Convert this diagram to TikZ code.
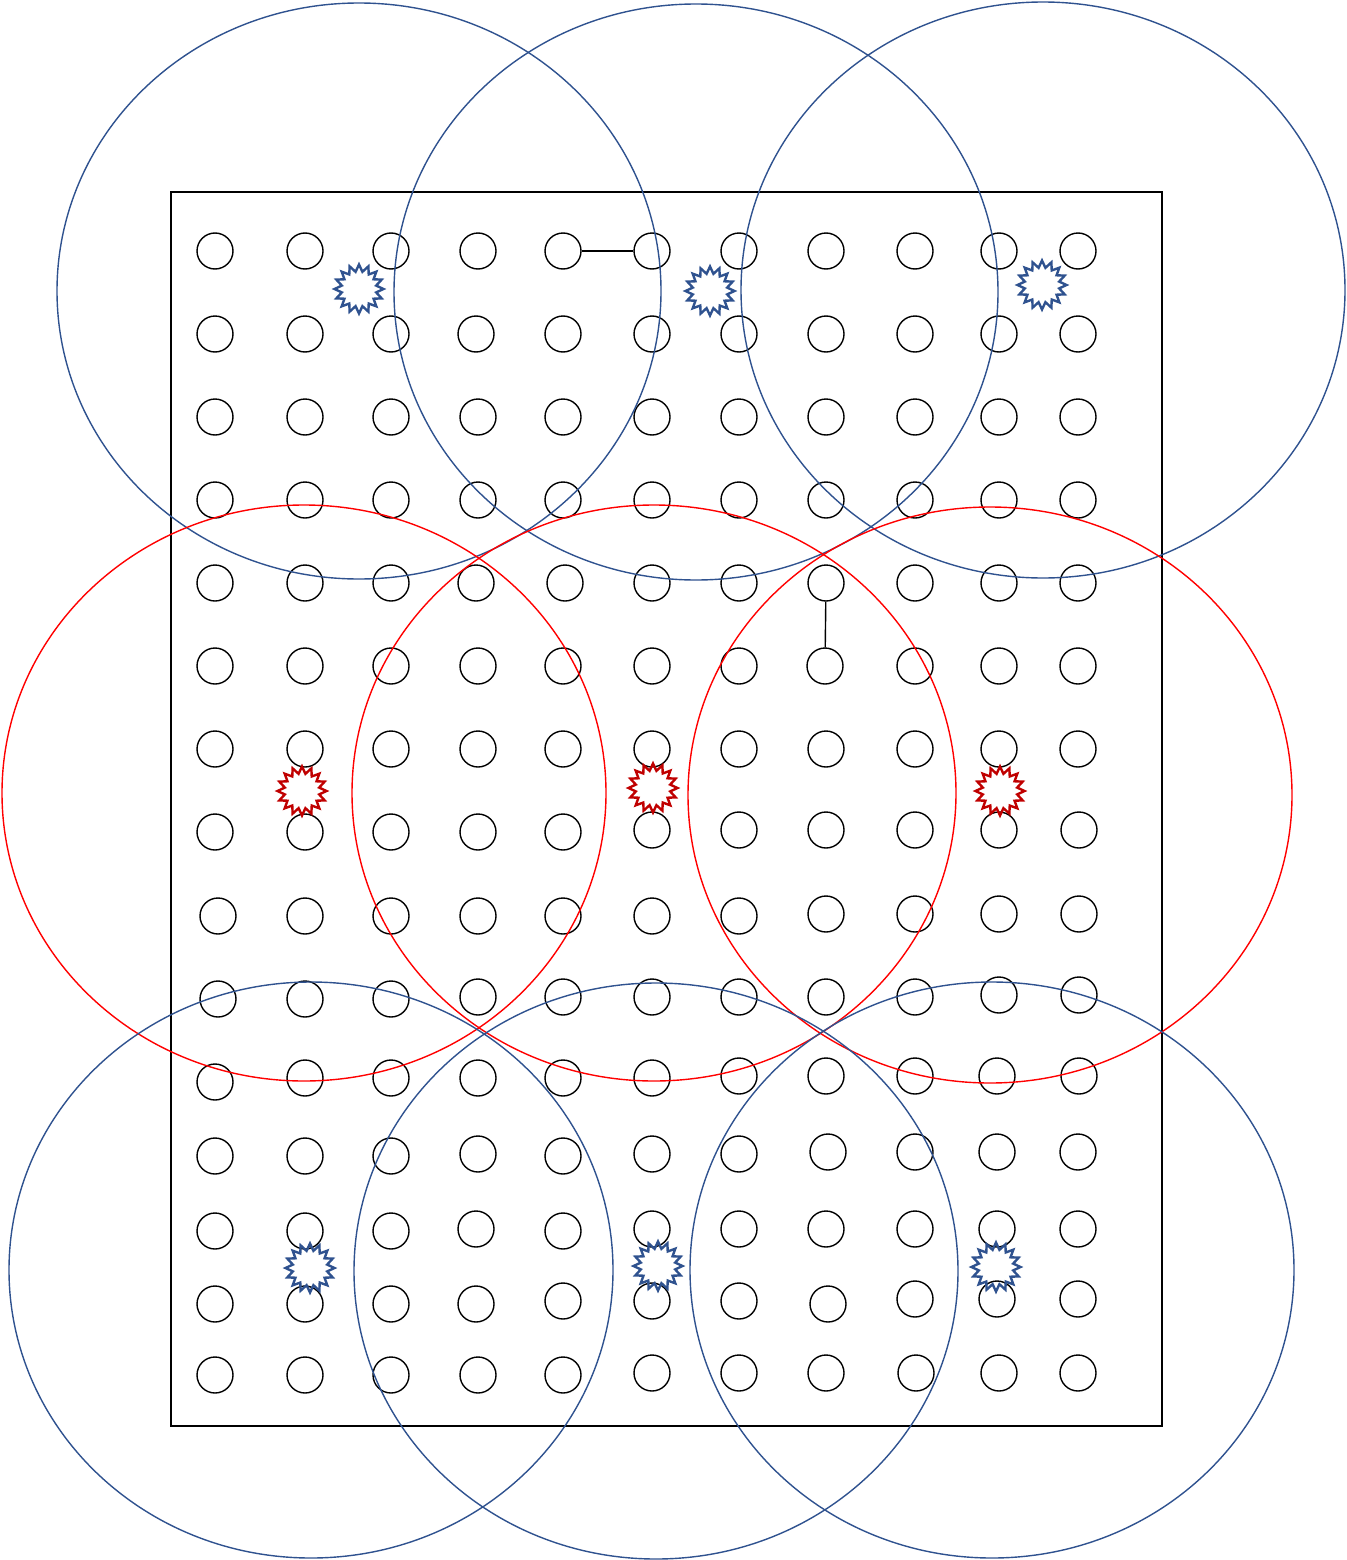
\documentclass[tikz,border=0pt]{standalone}
\definecolor{zoneblue}{HTML}{2F528F}
\definecolor{zonered}{HTML}{FF0000}
\definecolor{stardred}{HTML}{C00000}
\tikzset{
  dot/.style={draw=black, circle, line width=1.4pt, minimum size=36pt, inner sep=0pt},
  link/.style={draw=black, line width=1.4pt},
  frame/.style={draw=black, line width=1.4pt},
  bluezone/.style={draw=zoneblue, line width=1.4pt},
  redzone/.style={draw=zonered, line width=1.4pt},
  bluestar/.style={draw=zoneblue, line width=2.4pt, line join=miter},
  redstar/.style={draw=stardred, line width=2.4pt, line join=miter}
}
\newcommand\burst[4]{%
  \coordinate (#1) at (#2,#3);
  \draw[#4, shift={(#1)}] plot[samples at={0,...,31}] ({(21+3.5*cos(\x*180))*cos(\x*11.25)},{(21+3.5*cos(\x*180))*sin(\x*11.25)}) -- cycle;}
\begin{document}
\begin{tikzpicture}[x=1pt,y=-1pt]
\useasboundingbox (0,0) rectangle (1346,1560);
% frame
\draw[frame] (171,192) rectangle (1162,1426);
% grid of small circles
\foreach \r/\row in {
 1/{215/251,305/251,391/251,478/251,563/251,652/251,739/251,826/251,915/251,999/251,1078/251},
 2/{215/334,305/334,391/334,476/334,563/334,652/334,739/334,826/334,915/334,999/334,1078/334},
 3/{215/417,305/417,391/417,478/417,563/417,652/417,739/417,826/417,915/417,999/417,1078/417},
 4/{215/500,305/500,391/500,478/500,563/500,652/500,739/500,826/500,915/500,999/500,1078/500},
 5/{215/583,305/583,391/583,476/583,565/583,652/583,739/583,826/583,915/583,999/583,1078/583},
 6/{215/666,305/666,391/666,478/666,563/666,652/666,739/666,825/666,915/666,999/666,1078/666},
 7/{215/749,305/749,391/749,478/749,563/749,652/749,739/749,826/749,915/749,999/749,1078/749},
 8/{215/832,305/832,391/832,478/832,563/832,652/830,739/830,826/830,915/830,999/830,1079/830},
 9/{218/916,305/916,391/916,478/916,563/916,652/916,739/916,826/914,915/914,999/914,1079/914},
 10/{218/999,305/999,391/999,478/997,563/997,652/997,739/997,826/997,915/997,999/995,1079/995},
 11/{215/1082,305/1078,391/1078,478/1078,563/1078,652/1078,739/1076,826/1076,915/1076,997/1076,1079/1076},
 12/{215/1156,305/1156,391/1156,478/1154,563/1156,652/1154,739/1154,828/1152,915/1152,997/1152,1078/1152},
 13/{215/1231,305/1231,391/1231,476/1229,563/1231,652/1229,739/1229,826/1229,915/1229,997/1229,1078/1229},
 14/{215/1304,305/1304,391/1304,476/1304,563/1301,652/1301,739/1301,828/1304,915/1299,997/1299,1078/1299},
 15/{215/1375,305/1375,391/1375,478/1375,563/1375,652/1373,739/1373,826/1373,916/1373,999/1373,1078/1373}}
{
  \foreach \px/\py [count=\c] in \row {
    \node[dot] (c-\r-\c) at (\px,\py) {};
  }
}
% connectors
\draw[link] (c-1-5) -- (c-1-6);
\draw[link] (c-5-8) -- (c-6-8);
% blue zones top
\draw[bluezone] (359,291) ellipse [x radius=302pt, y radius=288pt];
\draw[bluezone] (696,292) ellipse [x radius=302pt, y radius=288pt];
\draw[bluezone] (1043,290) ellipse [x radius=302pt, y radius=288pt];
% red zones
\draw[redzone] (304,793) ellipse [x radius=302pt, y radius=288pt];
\draw[redzone] (654,793) ellipse [x radius=302pt, y radius=288pt];
\draw[redzone] (990,795) ellipse [x radius=302pt, y radius=288pt];
% blue zones bottom
\draw[bluezone] (311,1270) ellipse [x radius=302pt, y radius=288pt];
\draw[bluezone] (656,1271) ellipse [x radius=302pt, y radius=288pt];
\draw[bluezone] (992,1270) ellipse [x radius=302pt, y radius=288pt];
% stars
\burst{s1}{359}{289}{bluestar}
\burst{s2}{710}{291}{bluestar}
\burst{s3}{1042}{285}{bluestar}
\burst{s4}{302}{791}{redstar}
\burst{s5}{653}{788}{redstar}
\burst{s6}{1000}{791}{redstar}
\burst{s7}{310}{1268}{bluestar}
\burst{s8}{658}{1266}{bluestar}
\burst{s9}{996}{1267}{bluestar}
\end{tikzpicture}
\end{document}
